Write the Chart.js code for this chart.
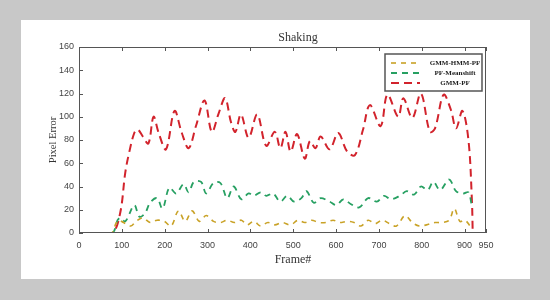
<!DOCTYPE html>
<html>
<head>
<meta charset="utf-8">
<script src="https://cdn.jsdelivr.net/npm/chart.js@4/dist/chart.umd.min.js"></script>
<style>
  html, body { margin: 0; padding: 0; background: #c8c8c8; }
  #wrap { width: 550px; height: 300px; }
</style>
</head>
<body>
<div id="wrap"><canvas id="chart"></canvas></div>
<script>
// frame numbers and pixel error
var redFrames = [0, 40, 78, 96, 108, 117, 129, 137, 149, 162, 174, 186, 203, 223, 240, 256, 273, 293, 310, 326,
  341, 355, 365, 378, 396, 416, 437, 457, 470, 482, 494, 509, 527, 539, 552, 564, 585, 605, 626, 644,
  663, 679, 704, 720, 745, 757, 778, 798, 819, 831, 851, 868, 880, 895, 909, 917, 919];
var redValues = [0, 0, 0, 17, 52, 69, 86, 89, 83, 77, 100, 86, 72, 105, 86, 73, 92, 114, 87, 103,
  116, 95, 87, 102, 82, 102, 75, 87, 73, 87, 70, 85, 64, 79, 73, 83, 72, 86, 70, 67,
  89, 110, 92, 119, 100, 116, 99, 120, 87, 90, 119, 106, 90, 105, 80, 29, 0];

var greenFrames = [0, 40, 78, 90, 96, 108, 129, 141, 154, 166, 182, 195, 211, 227, 244, 256, 268, 285, 297, 314,
  330, 346, 361, 379, 396, 408, 424, 437, 453, 470, 486, 502, 519, 531, 548, 564, 585, 601, 617, 634,
  654, 675, 695, 712, 728, 749, 765, 782, 798, 814, 827, 843, 864, 880, 897, 909, 917];
var greenValues = [0, 0, 0, 11, 13, 10, 24, 14, 17, 26, 30, 21, 39, 34, 42, 35, 44, 44, 34, 43,
  43, 30, 40, 29, 34, 32, 35, 32, 34, 27, 32, 27, 30, 36, 26, 30, 27, 24, 29, 25,
  22, 30, 27, 32, 29, 32, 36, 33, 40, 37, 44, 37, 46, 36, 34, 35, 23];

var yellowFrames = [0, 40, 76, 86, 92, 104, 121, 133, 149, 166, 182, 199, 215, 232, 248, 264, 281, 297, 314, 330,
  346, 363, 379, 392, 408, 424, 441, 457, 474, 494, 511, 527, 543, 560, 576, 593, 609, 626, 642, 658,
  675, 691, 708, 725, 741, 761, 778, 794, 811, 831, 847, 864, 876, 889, 901, 913];
var yellowValues = [0, 0, 0, 8, 11, 9, 6, 10, 13, 9, 11, 10, 6, 19, 10, 19, 10, 15, 10, 9,
  11, 9, 11, 7, 10, 6, 9, 7, 9, 7, 11, 9, 11, 9, 9, 11, 9, 10, 9, 6,
  11, 8, 11, 8, 6, 15, 9, 6, 7, 9, 9, 11, 21, 10, 11, 6];

var xTicks = [0, 100, 200, 300, 400, 500, 600, 700, 800, 900, 950];
var yTicks = [0, 20, 40, 60, 80, 100, 120, 140, 160];

function pts(xs, ys) {
  return xs.map(function(x, i) { return { x: x, y: ys[i] }; });
}

var serif = "'Liberation Serif', 'DejaVu Serif', serif";
var sans = "'Liberation Sans', Arial, sans-serif";

// gray backdrop, white panel, chart title and x title
var panelPlugin = {
  id: 'panel',
  beforeDraw: function(chart) {
    var ctx = chart.ctx;
    ctx.save();
    ctx.fillStyle = '#c8c8c8';
    ctx.fillRect(0, 0, chart.width, chart.height);
    ctx.fillStyle = '#ffffff';
    ctx.fillRect(21, 20, 509, 259);
    ctx.fillStyle = '#333';
    ctx.font = '12px ' + serif;
    ctx.textAlign = 'center';
    ctx.textBaseline = 'middle';
    ctx.fillText('Shaking', 298, 38);
    ctx.fillText('Frame#', 293, 260);
    ctx.restore();
  },
  afterDatasetsDraw: function(chart) {
    var ctx = chart.ctx, a = chart.chartArea;
    var xs = chart.scales.x, ys = chart.scales.y;
    ctx.save();
    ctx.strokeStyle = '#555';
    ctx.lineWidth = 1;
    ctx.strokeRect(a.left + 0.5, a.top + 0.5, a.right - a.left - 1, a.bottom - a.top - 1);
    xs.ticks.forEach(function(t) {
      var px = Math.round(xs.getPixelForValue(t.value)) + 0.5;
      ctx.beginPath();
      ctx.moveTo(px, a.top); ctx.lineTo(px, a.top + 4);
      ctx.moveTo(px, a.bottom); ctx.lineTo(px, a.bottom - 4);
      ctx.stroke();
    });
    ys.ticks.forEach(function(t) {
      var py = Math.round(ys.getPixelForValue(t.value)) + 0.5;
      ctx.beginPath();
      ctx.moveTo(a.left, py); ctx.lineTo(a.left + 4, py);
      ctx.stroke();
    });

    // legend box
    var bx = 385, by = 54, bw = 97, bh = 37;
    ctx.fillStyle = '#fff';
    ctx.fillRect(bx, by, bw, bh);
    ctx.strokeStyle = '#555';
    ctx.lineWidth = 1.5;
    ctx.strokeRect(bx, by, bw, bh);
    ctx.font = 'bold 7px ' + serif;
    ctx.textAlign = 'center';
    ctx.textBaseline = 'middle';
    chart.data.datasets.forEach(function(ds, i) {
      var ly = by + 9 + i * 10;
      ctx.strokeStyle = ds.borderColor;
      ctx.lineWidth = ds.borderWidth;
      ctx.setLineDash(ds.borderDash);
      ctx.beginPath();
      ctx.moveTo(391, ly); ctx.lineTo(420, ly);
      ctx.stroke();
      ctx.setLineDash([]);
      ctx.fillStyle = '#222';
      ctx.fillText(ds.label, 455, ly);
    });
    ctx.restore();
  }
};

new Chart('chart', {
  type: 'line',
  plugins: [panelPlugin],
  data: {
    datasets: [
      {
        label: 'GMM-HMM-PF',
        data: pts(yellowFrames, yellowValues),
        borderColor: '#c9a227',
        borderWidth: 1.6,
        borderDash: [5, 5],
        tension: 0.35,
        pointRadius: 0,
        fill: false
      },
      {
        label: 'PF-Meanshift',
        data: pts(greenFrames, greenValues),
        borderColor: '#27a062',
        borderWidth: 1.8,
        borderDash: [6, 5],
        tension: 0.35,
        pointRadius: 0,
        fill: false
      },
      {
        label: 'GMM-PF',
        data: pts(redFrames, redValues),
        borderColor: '#d2232c',
        borderWidth: 2,
        borderDash: [8, 5],
        tension: 0.35,
        pointRadius: 0,
        fill: false
      }
    ]
  },
  options: {
    responsive: true,
    maintainAspectRatio: false,
    animation: false,
    layout: { padding: { left: 43, right: 64, top: 47, bottom: 0 } },
    plugins: {
      legend: { display: false },
      title: { display: false },
      tooltip: { enabled: false }
    },
    scales: {
      x: {
        type: 'linear',
        min: 0,
        max: 950,
        afterBuildTicks: function(s) { s.ticks = xTicks.map(function(v) { return { value: v }; }); },
        afterFit: function(s) { s.height = 67; },
        grid: { display: false, drawTicks: false },
        border: { display: false },
        ticks: { autoSkip: false, maxRotation: 0, padding: 7, color: '#444', font: { size: 9, family: sans } }
      },
      y: {
        min: 0,
        max: 160,
        afterBuildTicks: function(s) { s.ticks = yTicks.map(function(v) { return { value: v }; }); },
        afterFit: function(s) { s.width = 36; },
        grid: { display: false, drawTicks: false },
        border: { display: false },
        title: { display: true, text: 'Pixel Error', color: '#333', font: { size: 10.5, family: serif } },
        ticks: { padding: 5, color: '#444', font: { size: 9, family: sans } }
      }
    }
  }
});
</script>
</body>
</html>
